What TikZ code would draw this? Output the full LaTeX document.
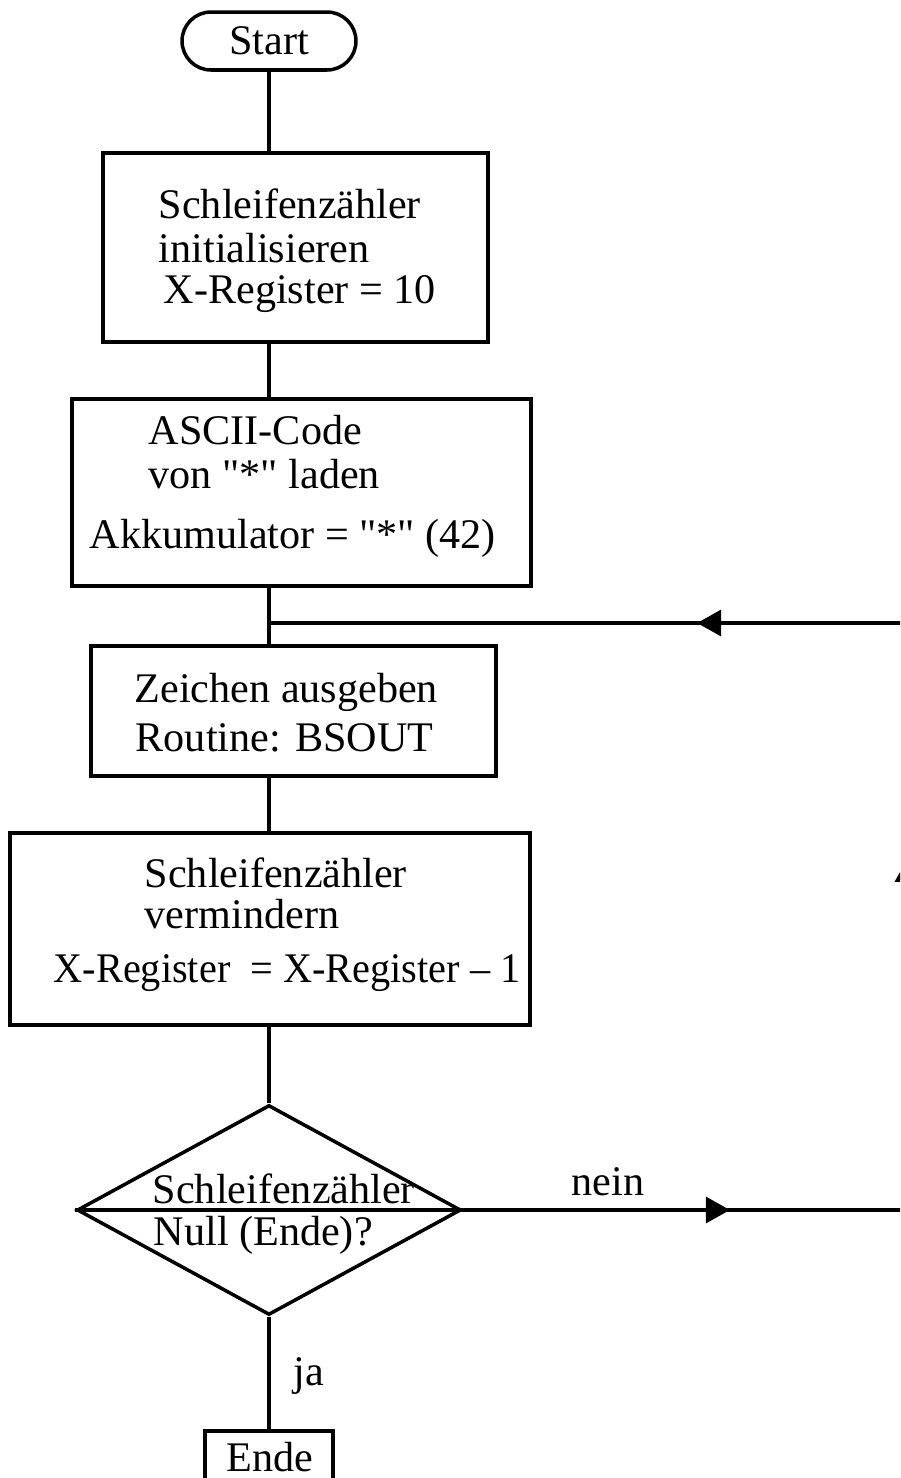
\documentclass[tikz,border=0pt]{standalone}
\usepackage{graphicx}
\usepackage{fontspec}
\setmainfont{Liberation Serif}[Ligatures=TeXOff]
\usetikzlibrary{shapes.geometric,arrows.meta,decorations.markings,fit}
\begin{document}
\begin{tikzpicture}[x=0.02cm,y=-0.02cm,
  line width=2pt,
  every node/.style={font=\fontsize{24}{28}\selectfont},
  box/.style={draw, rectangle, inner sep=0pt},
  term/.style={draw, rectangle, rounded corners=0.58cm, inner sep=0pt},
  decision/.style={draw, diamond, inner sep=0pt, minimum width=7.68cm, minimum height=4.2cm},
  txt/.style={anchor=base west, inner sep=0pt},
  arrowat/.style={postaction={decorate}, decoration={markings,
      mark=at position #1 with {\arrow{Triangle[length=0.48cm,width=0.52cm]}}}},
]
\useasboundingbox (0,0) rectangle (900,1478);
\clip (0,0) rectangle (900,1478);

% flow boxes
\node[term, minimum width=3.48cm, minimum height=1.16cm] (start) at (269,41) {Start};
\node[box, fit={(103,153) (488,342)}] (b1) {};
\node[box, fit={(72,399) (531,586)}] (b2) {};
\node[box, fit={(91,646) (496,776)}] (b3) {};
\node[box, fit={(10,833) (530,1025)}] (b4) {};
\node[decision] (dia) at (269,1210) {};
\node[box, fit={(205,1431) (333,1520)}] (ende) {};

% box texts
\node[txt] (t1a) at (157,218) {Schleifenzähler};
\node[txt] (t1b) at (157,262) {initialisieren};
\node[txt] (t1c) at (162,303) {X-Register = 10};
\node[txt] (t2a) at (147,444) {ASCII-Code};
\node[txt] (t2b) at (147,488) {von "*" laden};
\node[txt] (t2c) at (88,548) {Akkumulator = "*" (42)};
\node[txt] (t3a) at (133,702) {Zeichen ausgeben};
\node[txt] (t3b) at (134,751) {Routine: BSOUT};
\node[txt] (t4a) at (143,887) {Schleifenzähler};
\node[txt] (t4b) at (143,928) {vermindern};
\node[txt] (t4c) at (52,982) {\scalebox{0.955}[1]{X-Register\hspace{0.25em} = X-Register – 1}};
\node[txt] (t5a) at (151,1203) {Schleifenzähler};
\node[txt] (t5b) at (152,1245) {Null (Ende)?};
\node[txt] (tn) at (570,1195) {nein};
\node[txt] (tj) at (292,1385) {ja};
\node[txt] (te) at (225,1471) {Ende};

% main line
\draw (start.south) -- (start.south |- b1.north);
\draw (b1.south -| start.south) -- (b2.north -| start.south);
\draw (b2.south -| start.south) -- (b3.north -| start.south);
\draw (b3.south -| start.south) -- (b4.north -| start.south);
\draw (b4.south -| start.south) -- (dia.north);
\draw (dia.south) -- (ende.north -| dia.south);
\draw (dia.west) -- (dia.east);

% loop back
\coordinate (rt) at (908,623);
\coordinate (join) at (rt -| start.south);
\draw[arrowat=0.6] (dia.east) -- (dia.east -| rt);
\draw[arrowat=0.6] (dia.east -| rt) -- (rt);
\draw[arrowat=0.33] (rt) -- (join);
\end{tikzpicture}
\end{document}
